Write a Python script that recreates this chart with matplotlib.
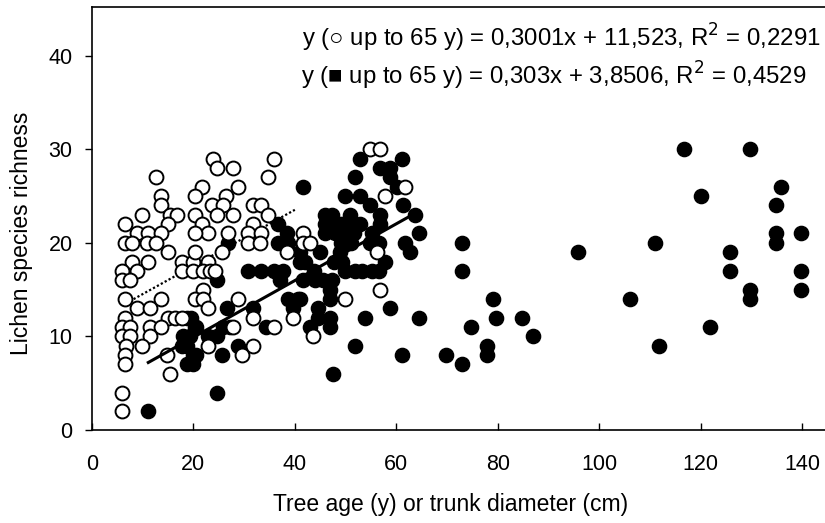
import matplotlib
matplotlib.use("Agg")
import matplotlib.pyplot as plt
import numpy as np

plt.rcParams['font.family'] = ['Liberation Sans', 'DejaVu Sans']

# trees up to 65 y, open symbols (first survey)
open_x = [12.7, 13.7, 13.7, 9.8, 15.4, 16.7, 15.0, 6.5, 8.8, 11.0, 13.7, 6.5, 7.8, 10.8, 12.7,
          15.0, 7.8, 11.0, 5.9, 8.8, 5.9, 7.5, 17.7, 17.7, 19.9, 6.5, 8.8, 11.4, 13.7, 6.5,
          15.0, 16.4, 17.7, 5.9, 7.5, 11.4, 13.7, 5.9, 7.5, 11.4, 6.8, 9.8, 6.5, 14.7, 15.4,
          6.5, 5.9, 5.9,
          23.9, 24.6, 27.9, 35.8, 34.8, 21.6, 20.3, 26.5, 28.8, 23.6, 25.9, 27.9, 24.6, 31.8,
          33.4, 34.8, 20.3, 21.6, 22.9, 26.9, 31.8, 30.8, 33.4, 30.8, 33.1, 20.3, 20.3, 22.9,
          25.6, 20.0, 21.9, 23.3, 24.3, 21.9, 20.3, 21.9, 22.9, 28.8, 31.8, 39.7, 35.8, 27.9,
          22.9, 29.5, 31.8, 38.4, 41.7, 41.7,
          54.8, 56.8, 57.8, 61.7, 43.0, 56.2, 56.8, 49.9, 43.6]
open_y = [27, 25, 24, 23, 23, 23, 22, 22, 21, 21, 21, 20, 20, 20, 20,
          19, 18, 18, 17, 17, 16, 16, 18, 17, 18, 14, 13, 13, 14, 12,
          12, 12, 12, 11, 11, 11, 11, 10, 10, 10, 9, 9, 8, 8, 6,
          7, 4, 2,
          29, 28, 28, 29, 27, 26, 25, 25, 26, 24, 24, 23, 23, 24,
          24, 23, 23, 22, 21, 21, 22, 21, 21, 20, 20, 21, 19, 18,
          19, 17, 17, 17, 17, 15, 14, 14, 13, 14, 12, 12, 11, 11,
          9, 8, 9, 19, 21, 20,
          30, 30, 25, 26, 20, 19, 15, 14, 10]

# filled symbols (second survey, whole age range)
filled_x = [11.1, 18.7, 20.3, 18.0, 19.3, 18.7, 17.7, 20.6, 20.0, 18.7, 19.6, 20.6, 22.9, 24.6,
            26.6, 27.2, 28.8, 25.6, 24.6,
            41.7, 36.7, 26.9, 24.6, 30.8, 33.4, 35.8, 37.7, 37.1, 36.7, 38.7, 38.4, 41.0, 38.7,
            40.7, 39.7, 31.8, 25.9, 34.4, 20.0,
            52.9, 61.1, 51.9, 56.8, 58.8, 58.8, 60.1, 61.4, 63.7, 49.9, 52.9, 54.8, 56.8, 46.0,
            47.3, 50.9, 52.9, 46.0, 47.3, 49.2, 51.2, 46.0, 47.9, 49.9, 51.6, 55.2, 56.8, 49.2,
            51.0, 54.8, 56.5, 48.9, 47.8, 49.3, 49.9, 51.9, 53.2, 55.2, 56.5, 57.8, 41.0, 42.0,
            41.7, 44.0, 45.6, 47.3, 46.9, 46.9, 41.0, 44.6, 44.6, 46.9, 43.0, 46.9, 53.8, 58.8,
            64.4, 51.9, 61.1, 47.6, 61.7, 62.7, 64.4, 45.0, 43.7,
            72.9, 72.9, 95.9, 79.0, 79.7, 84.7, 74.7, 87.0, 77.8, 77.8, 69.9, 72.9,
            116.8, 129.8, 135.9, 120.1, 134.8, 134.8, 134.8, 139.9, 111.0, 125.8, 125.8, 139.9,
            139.9, 129.8, 129.8, 106.0, 121.9, 111.8]
filled_y = [2, 12, 11, 10, 10, 9, 9, 8, 7, 7, 12, 11, 10, 10,
            13, 11, 9, 8, 4,
            26, 22, 20, 16, 17, 17, 17, 17, 16, 20, 20, 21, 18, 14,
            14, 13, 13, 11, 11, 8,
            29, 29, 27, 28, 28, 27, 26, 24, 23, 25, 25, 24, 23, 23,
            23, 23, 22, 22, 22, 22, 22, 21, 21, 21, 21, 21, 22, 20,
            20, 20, 20, 19, 18, 18, 17, 17, 17, 17, 17, 18, 19, 18,
            16, 16, 16, 16, 15, 14, 14, 13, 12, 12, 11, 11, 12, 13,
            12, 9, 8, 6, 20, 19, 21, 19, 17,
            20, 17, 19, 14, 12, 12, 11, 10, 9, 8, 8, 7,
            30, 30, 26, 25, 24, 21, 20, 21, 20, 19, 17, 17,
            15, 15, 14, 14, 11, 9]

open_fit = (0.3001, 11.523)
filled_fit = (0.303, 3.8506)
open_fit_range = [5.9, 40.0]
filled_fit_range = [11.1, 64.4]

fig = plt.figure(figsize=(8.25, 5.23), dpi=100)
ax = fig.add_axes([92 / 825, 93 / 523, 735.3 / 825, 423 / 523])

ax.scatter(filled_x, filled_y, s=105, color='black', edgecolors='black', linewidths=1.0, zorder=2)

fx = np.array(open_fit_range)
ax.plot(fx, open_fit[0] * fx + open_fit[1], color='black', lw=1.6, linestyle=(0, (1, 1)), zorder=2.5)

ax.scatter(open_x, open_y, s=100, facecolors='white', edgecolors='black', linewidths=1.4, zorder=3)

fx = np.array(filled_fit_range)
ax.plot(fx, filled_fit[0] * fx + filled_fit[1], color='black', lw=2.2, zorder=4)

ax.set_xlim(0, 145)
ax.set_ylim(0, 45.2)
ax.set_xticks(range(0, 141, 20))
ax.set_yticks(range(0, 41, 10))
ax.tick_params(axis='x', direction='in', length=5, width=1, pad=17, labelsize=15.5)
ax.tick_params(axis='y', direction='out', length=5, width=1, pad=9, labelsize=15.5)
for sp in ax.spines.values():
    sp.set_linewidth(1.2)

fig.text(22 / 825, 1 - 233 / 523, 'Lichen species richness', rotation=90,
         ha='center', va='center', fontsize=16.5)
fig.text(451 / 825, 1 - 505 / 523, 'Tree age (y) or trunk diameter (cm)',
         ha='center', va='center', fontsize=16.5)

fig.text(821 / 825, 1 - 38 / 523, 'y (○ up to 65 y) = 0,3001x + 11,523, R$^2$ = 0,2291',
         ha='right', va='center', fontsize=17.3)
fig.text(806 / 825, 1 - 76 / 523, 'y (■ up to 65 y) = 0,303x + 3,8506, R$^2$ = 0,4529',
         ha='right', va='center', fontsize=17.3)

fig.savefig('out.png', dpi=100)
